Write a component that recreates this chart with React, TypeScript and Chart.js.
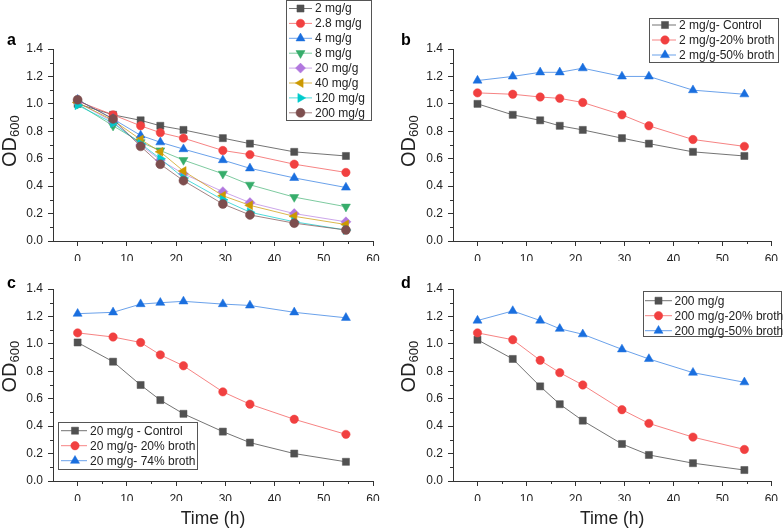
import React, { useEffect, useRef } from 'react';
import { Chart, registerables } from 'chart.js';
import { drawPoint } from 'chart.js/helpers';

Chart.register(...registerables);

// ---------------- data ----------------
const timeH = [0, 7.2, 12.8, 16.8, 21.5, 29.5, 35, 44, 54.5];
const xTickValues = [0, 10, 20, 30, 40, 50, 60];
const yTickValues = [0, 0.2, 0.4, 0.6, 0.8, 1.0, 1.2, 1.4];

const aLabels = ['2 mg/g', '2.8 mg/g', '4 mg/g', '8 mg/g', '20 mg/g', '40 mg/g', '120 mg/g', '200 mg/g'];
const a_2 = [1.0, 0.92, 0.88, 0.84, 0.81, 0.75, 0.71, 0.65, 0.62];
const a_2p8 = [1.02, 0.92, 0.84, 0.79, 0.75, 0.66, 0.63, 0.56, 0.5];
const a_4 = [1.03, 0.89, 0.77, 0.72, 0.67, 0.59, 0.53, 0.46, 0.39];
const a_8 = [1.0, 0.84, 0.72, 0.66, 0.59, 0.49, 0.41, 0.32, 0.25];
const a_20 = [1.01, 0.87, 0.7, 0.59, 0.49, 0.36, 0.28, 0.2, 0.14];
const a_40 = [1.01, 0.88, 0.74, 0.65, 0.51, 0.33, 0.26, 0.18, 0.12];
const a_120 = [0.99, 0.86, 0.71, 0.6, 0.46, 0.3, 0.21, 0.14, 0.08];
const a_200 = [1.03, 0.89, 0.69, 0.56, 0.44, 0.27, 0.19, 0.13, 0.08];

const bLabels = ['2 mg/g- Control', '2 mg/g-20% broth', '2 mg/g-50% broth'];
const b_control = [1.0, 0.92, 0.88, 0.84, 0.81, 0.75, 0.71, 0.65, 0.62];
const b_broth20 = [1.08, 1.07, 1.05, 1.04, 1.01, 0.92, 0.84, 0.74, 0.69];
const b_broth50 = [1.17, 1.2, 1.23, 1.23, 1.26, 1.2, 1.2, 1.1, 1.07];

const cLabels = ['20 mg/g - Control', '20 mg/g- 20% broth', '20 mg/g- 74% broth'];
const c_control = [1.01, 0.87, 0.7, 0.59, 0.49, 0.36, 0.28, 0.2, 0.14];
const c_broth20 = [1.08, 1.05, 1.01, 0.92, 0.84, 0.65, 0.56, 0.45, 0.34];
const c_broth74 = [1.22, 1.23, 1.29, 1.3, 1.31, 1.29, 1.28, 1.23, 1.19];

const dLabels = ['200 mg/g', '200 mg/g-20% broth', '200 mg/g-50% broth'];
const d_control = [1.03, 0.89, 0.69, 0.56, 0.44, 0.27, 0.19, 0.13, 0.08];
const d_broth20 = [1.08, 1.03, 0.88, 0.79, 0.7, 0.52, 0.42, 0.32, 0.23];
const d_broth50 = [1.17, 1.24, 1.17, 1.11, 1.07, 0.96, 0.89, 0.79, 0.72];

// ---------------- styles ----------------
const FONT = "Arial, 'Liberation Sans', Helvetica, sans-serif";
const AXIS = '#333333';
const TEXT = '#222222';

type Mk = { color: string; line: string; shape: string; rotation: number; radius: number };
const MK: Record<string, Mk> = {
  gray: { color: '#515151', line: 'rgba(81,81,81,0.8)', shape: 'rect', rotation: 0, radius: 5 },
  red: { color: '#F14040', line: 'rgba(241,64,64,0.65)', shape: 'circle', rotation: 0, radius: 4.2 },
  blue: { color: '#1A6FDF', line: 'rgba(26,111,223,0.65)', shape: 'triangle', rotation: 0, radius: 5.2 },
  green: { color: '#37AD6B', line: 'rgba(55,173,107,0.65)', shape: 'triangle', rotation: 180, radius: 5.2 },
  purple: { color: '#B177DE', line: 'rgba(177,119,222,0.65)', shape: 'rectRot', rotation: 0, radius: 5 },
  gold: { color: '#CC9900', line: 'rgba(204,153,0,0.7)', shape: 'triangle', rotation: -90, radius: 5.2 },
  cyan: { color: '#00CBCC', line: 'rgba(0,203,204,0.7)', shape: 'triangle', rotation: 90, radius: 5.2 },
  brown: { color: '#7D4E4E', line: 'rgba(125,78,78,0.7)', shape: 'circle', rotation: 0, radius: 4.5 },
};

type Legend = { x: number; y: number; w: number; h: number; row0: number; dy: number; l0: number; l1: number; mx: number; tx: number };
type PanelCfg = {
  letter: string;
  left: number;
  top: number;
  series: { label: string; data: number[]; mk: Mk }[];
  padding: { left: number; right: number; top: number; bottom: number };
  legend: Legend;
  odX: number;
  odY: number;
  letterX: number;
  letterY: number;
  timeY: number | null;
};

const PANELS: PanelCfg[] = [
  {
    letter: 'a', left: 0, top: 0,
    series: [
      { label: aLabels[0], data: a_2, mk: MK.gray },
      { label: aLabels[1], data: a_2p8, mk: MK.red },
      { label: aLabels[2], data: a_4, mk: MK.blue },
      { label: aLabels[3], data: a_8, mk: MK.green },
      { label: aLabels[4], data: a_20, mk: MK.purple },
      { label: aLabels[5], data: a_40, mk: MK.gold },
      { label: aLabels[6], data: a_120, mk: MK.cyan },
      { label: aLabels[7], data: a_200, mk: MK.brown },
    ],
    padding: { left: 8, right: 19, top: 49, bottom: 3 },
    legend: { x: 286.5, y: 0.5, w: 85, h: 120, row0: 8.5, dy: 14.9, l0: 289, l1: 312, mx: 300.5, tx: 315 },
    odX: 15.5, odY: 167, letterX: 7, letterY: 45, timeY: null,
  },
  {
    letter: 'b', left: 392, top: 0,
    series: [
      { label: bLabels[0], data: b_control, mk: MK.gray },
      { label: bLabels[1], data: b_broth20, mk: MK.red },
      { label: bLabels[2], data: b_broth50, mk: MK.blue },
    ],
    padding: { left: 16, right: 9, top: 49, bottom: 3 },
    legend: { x: 257.5, y: 18.5, w: 129, h: 44, row0: 25, dy: 15, l0: 260, l1: 284, mx: 273, tx: 287 },
    odX: 23, odY: 167, letterX: 9, letterY: 45, timeY: null,
  },
  {
    letter: 'c', left: 0, top: 264,
    series: [
      { label: cLabels[0], data: c_control, mk: MK.gray },
      { label: cLabels[1], data: c_broth20, mk: MK.red },
      { label: cLabels[2], data: c_broth74, mk: MK.blue },
    ],
    padding: { left: 8, right: 19, top: 25, bottom: 27 },
    legend: { x: 58.5, y: 158.5, w: 139, h: 47, row0: 166.7, dy: 15, l0: 61, l1: 87, mx: 75, tx: 90 },
    odX: 15.5, odY: 128.5, letterX: 7, letterY: 24, timeY: 259.5,
  },
  {
    letter: 'd', left: 392, top: 264,
    series: [
      { label: dLabels[0], data: d_control, mk: MK.gray },
      { label: dLabels[1], data: d_broth20, mk: MK.red },
      { label: dLabels[2], data: d_broth50, mk: MK.blue },
    ],
    padding: { left: 16, right: 9, top: 25, bottom: 27 },
    legend: { x: 251.5, y: 27.5, w: 138, h: 45, row0: 36.7, dy: 15, l0: 253, l1: 280, mx: 266.5, tx: 282.5 },
    odX: 23, odY: 128.5, letterX: 9, letterY: 24, timeY: 259.5,
  },
];

const xMinor = [5, 15, 25, 35, 45, 55];
const yMinor = [0.1, 0.3, 0.5, 0.7, 0.9, 1.1, 1.3];

function makeDecor(cfg: PanelCfg) {
  return {
    id: 'decor' + cfg.letter,
    afterDraw(chart: any) {
      const ctx: CanvasRenderingContext2D = chart.ctx;
      const { left, right, bottom } = chart.chartArea;
      const xs = chart.scales.x;
      const ys = chart.scales.y;
      ctx.save();
      // minor ticks
      ctx.strokeStyle = AXIS;
      ctx.lineWidth = 1;
      ctx.beginPath();
      for (const v of yMinor) {
        const py = Math.round(ys.getPixelForValue(v)) + 0.5;
        ctx.moveTo(left - 3, py);
        ctx.lineTo(left, py);
      }
      for (const v of xMinor) {
        const px = Math.round(xs.getPixelForValue(v)) + 0.5;
        ctx.moveTo(px, bottom);
        ctx.lineTo(px, bottom + 3);
      }
      ctx.stroke();

      // panel letter
      ctx.fillStyle = '#000';
      ctx.font = `bold 16px ${FONT}`;
      ctx.textAlign = 'left';
      ctx.textBaseline = 'alphabetic';
      ctx.fillText(cfg.letter, cfg.letterX, cfg.letterY);

      // y title OD600
      ctx.save();
      ctx.translate(cfg.odX, cfg.odY);
      ctx.rotate(-Math.PI / 2);
      ctx.fillStyle = TEXT;
      ctx.font = `20px ${FONT}`;
      ctx.fillText('OD', 0, 0);
      const w = ctx.measureText('OD').width;
      ctx.font = `13px ${FONT}`;
      ctx.fillText('600', w, 3);
      ctx.restore();

      // x title
      if (cfg.timeY !== null) {
        ctx.fillStyle = TEXT;
        ctx.font = `17.5px ${FONT}`;
        ctx.textAlign = 'center';
        ctx.fillText('Time (h)', (left + right) / 2, cfg.timeY);
      }

      // legend
      const L = cfg.legend;
      ctx.fillStyle = '#ffffff';
      ctx.fillRect(L.x, L.y, L.w, L.h);
      ctx.strokeStyle = '#555555';
      ctx.lineWidth = 1;
      ctx.strokeRect(L.x, L.y, L.w, L.h);
      cfg.series.forEach((s, i) => {
        const ry = L.row0 + i * L.dy;
        ctx.strokeStyle = s.mk.line;
        ctx.lineWidth = 1;
        ctx.beginPath();
        ctx.moveTo(L.l0, ry);
        ctx.lineTo(L.l1, ry);
        ctx.stroke();
        ctx.fillStyle = s.mk.color;
        ctx.strokeStyle = s.mk.color;
        ctx.lineWidth = 0.5;
        drawPoint(ctx, { pointStyle: s.mk.shape as any, rotation: s.mk.rotation, radius: s.mk.radius, borderWidth: 0.5 }, L.mx, ry);
        ctx.fillStyle = TEXT;
        ctx.font = `12px ${FONT}`;
        ctx.textAlign = 'left';
        ctx.textBaseline = 'middle';
        ctx.fillText(s.label, L.tx, ry + 0.5);
      });
      ctx.restore();
    },
  };
}

function Panel({ cfg }: { cfg: PanelCfg }) {
  const ref = useRef<HTMLCanvasElement>(null);
  useEffect(() => {
    const n = cfg.series.length;
    const chart = new Chart(ref.current as HTMLCanvasElement, {
      type: 'line',
      data: {
        datasets: cfg.series.map((s, i) => ({
          label: s.label,
          data: timeH.map((t, k) => ({ x: t, y: s.data[k] })),
          borderColor: s.mk.line,
          borderWidth: 1,
          backgroundColor: s.mk.color,
          pointStyle: s.mk.shape as any,
          pointRotation: s.mk.rotation,
          pointRadius: s.mk.radius,
          pointBackgroundColor: s.mk.color,
          pointBorderColor: s.mk.color,
          pointBorderWidth: 0.5,
          tension: 0,
          fill: false,
          clip: false as any,
          order: n - i,
        })),
      },
      options: {
        responsive: false,
        animation: false,
        events: [],
        layout: { padding: cfg.padding },
        plugins: { legend: { display: false }, tooltip: { enabled: false } },
        scales: {
          x: {
            type: 'linear',
            min: -5,
            max: 60,
            afterBuildTicks: (s: any) => { s.ticks = xTickValues.map((v) => ({ value: v })); },
            afterFit: (s: any) => { s.height = 20; },
            ticks: { color: TEXT, font: { family: FONT, size: 12 }, padding: 6, maxRotation: 0, autoSkip: false },
            grid: { drawOnChartArea: false, drawTicks: true, tickLength: 5, tickColor: AXIS, color: AXIS },
            border: { display: true, color: AXIS, width: 1 },
          },
          y: {
            type: 'linear',
            min: 0,
            max: 1.4,
            afterBuildTicks: (s: any) => { s.ticks = yTickValues.map((v) => ({ value: v })); },
            afterFit: (s: any) => { s.width = 45; },
            ticks: {
              color: TEXT,
              font: { family: FONT, size: 12 },
              padding: 5,
              autoSkip: false,
              callback: (v: any) => Number(v).toFixed(1),
            },
            grid: { drawOnChartArea: false, drawTicks: true, tickLength: 5, tickColor: AXIS, color: AXIS },
            border: { display: true, color: AXIS, width: 1 },
          },
        },
      },
      plugins: [makeDecor(cfg)],
    });
    return () => chart.destroy();
  }, [cfg]);
  return (
    <canvas
      ref={ref}
      width={392}
      height={264}
      style={{ position: 'absolute', left: cfg.left, top: cfg.top, width: 392, height: 264 }}
    />
  );
}

export default function App() {
  return (
    <div style={{ position: 'absolute', left: 0, top: 0, width: 784, height: 528, background: '#ffffff', overflow: 'hidden' }}>
      {PANELS.map((p) => (
        <Panel key={p.letter} cfg={p} />
      ))}
    </div>
  );
}
